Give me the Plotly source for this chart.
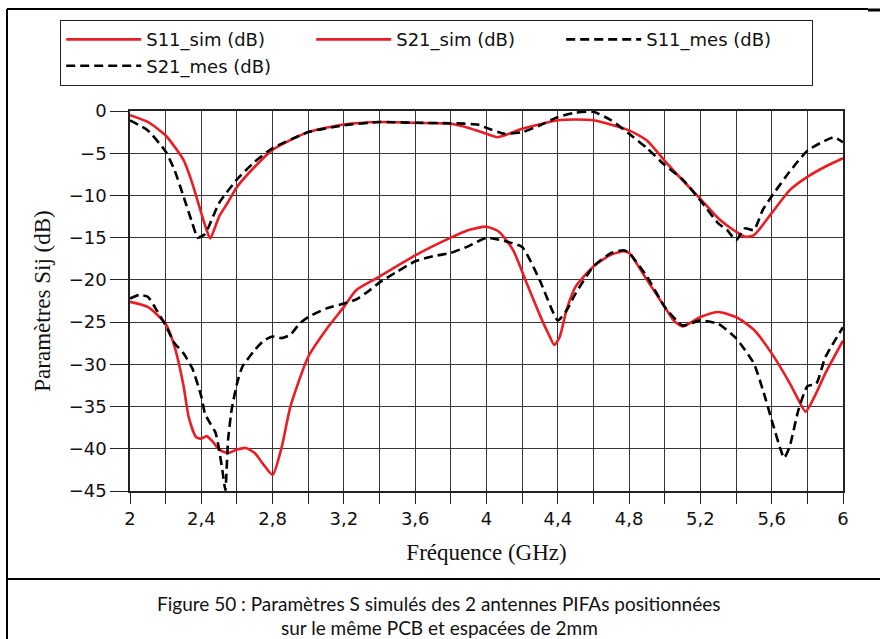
import plotly.graph_objects as go

# ---------------- data ----------------
freq_s11_sim = [2.0, 2.1, 2.2, 2.3, 2.35, 2.4, 2.43, 2.45, 2.5, 2.55, 2.6, 2.7, 2.8,
                3.0, 3.2, 3.4, 3.6, 3.8, 3.9, 4.0, 4.06, 4.1, 4.2, 4.4, 4.5, 4.6,
                4.8, 4.9, 5.0, 5.1, 5.2, 5.3, 5.4, 5.45, 5.5, 5.6, 5.7, 5.8, 5.9, 6.0]
s11_sim = [-0.5, -1.3, -2.9, -5.8, -8.6, -12.1, -14.1, -15.1, -12.5, -10.8, -9.0, -6.6, -4.6,
           -2.5, -1.6, -1.3, -1.4, -1.5, -2.0, -2.7, -3.1, -2.9, -2.1, -1.1, -1.0, -1.1,
           -2.3, -3.5, -5.9, -8.2, -10.4, -12.7, -14.3, -14.9, -14.7, -12.1, -9.4, -7.8, -6.6, -5.6]

freq_s21_sim = [2.0, 2.1, 2.2, 2.25, 2.3, 2.33, 2.37, 2.4, 2.43, 2.47, 2.5, 2.55, 2.6, 2.65,
                2.7, 2.75, 2.8, 2.85, 2.9, 3.0, 3.1, 3.2, 3.27, 3.4, 3.6, 3.8, 3.9, 4.0,
                4.07, 4.15, 4.22, 4.3, 4.35, 4.38, 4.41, 4.45, 4.5, 4.6, 4.7, 4.77, 4.8,
                4.9, 5.0, 5.05, 5.1, 5.2, 5.3, 5.4, 5.5, 5.6, 5.7, 5.75, 5.79, 5.85, 5.9, 6.0]
s21_sim = [-22.6, -23.2, -25.2, -27.9, -32.5, -36.3, -38.6, -38.8, -38.5, -39.3, -40.1, -40.5, -40.1, -39.9,
           -40.5, -41.9, -43.1, -39.9, -35.0, -29.1, -25.9, -23.2, -21.2, -19.6, -17.1, -15.0, -14.1, -13.7,
           -14.3, -16.5, -20.1, -24.2, -26.5, -27.7, -26.8, -23.5, -20.8, -18.4, -17.0, -16.6, -16.8,
           -20.0, -23.2, -24.8, -25.5, -24.4, -23.8, -24.4, -25.9, -28.7, -32.2, -34.2, -35.6, -33.4, -31.1, -27.2]

freq_s11_mes = [2.0, 2.1, 2.2, 2.25, 2.3, 2.35, 2.38, 2.42, 2.45, 2.5, 2.6, 2.7, 2.8, 3.0,
                3.2, 3.4, 3.6, 3.8, 3.95, 4.0, 4.1, 4.2, 4.3, 4.4, 4.5, 4.6, 4.7, 4.8,
                4.9, 5.0, 5.1, 5.2, 5.3, 5.35, 5.4, 5.45, 5.5, 5.55, 5.6, 5.7, 5.8, 5.9, 5.95, 6.0]
s11_mes = [-1.1, -2.3, -4.8, -7.0, -10.1, -13.3, -15.0, -14.6, -13.3, -10.9, -8.1, -6.0, -4.4, -2.5,
           -1.7, -1.3, -1.4, -1.45, -1.6, -2.0, -2.7, -2.5, -1.7, -0.7, -0.2, -0.1, -1.1, -2.7,
           -4.4, -6.4, -8.1, -10.6, -13.3, -14.1, -15.3, -13.9, -14.1, -11.7, -10.1, -7.2, -4.7, -3.5, -3.1, -3.7]

freq_s21_mes = [2.0, 2.05, 2.1, 2.15, 2.2, 2.25, 2.3, 2.35, 2.4, 2.42, 2.45, 2.48, 2.5, 2.52,
                2.535, 2.55, 2.57, 2.6, 2.63, 2.7, 2.75, 2.8, 2.85, 2.9, 2.95, 3.0, 3.1,
                3.2, 3.27, 3.34, 3.4, 3.5, 3.6, 3.7, 3.8, 3.9, 4.0, 4.1, 4.2, 4.3, 4.4,
                4.45, 4.5, 4.6, 4.7, 4.77, 4.8, 4.9, 5.0, 5.1, 5.2, 5.3, 5.4, 5.5, 5.55,
                5.6, 5.65, 5.67, 5.7, 5.75, 5.8, 5.85, 5.9, 6.0]
s21_mes = [-22.2, -21.8, -22.0, -23.6, -25.4, -27.5, -28.7, -30.5, -33.8, -35.8, -37.0, -38.1, -40.1, -42.8,
           -44.9, -39.0, -35.4, -32.3, -30.3, -28.3, -27.2, -26.7, -26.9, -26.5, -25.2, -24.4, -23.4,
           -22.8, -22.3, -21.3, -20.3, -19.0, -17.8, -17.2, -16.8, -16.0, -15.0, -15.4, -16.1, -20.1, -24.8,
           -23.6, -21.6, -18.4, -16.8, -16.5, -16.8, -19.6, -23.2, -25.4, -24.8, -25.2, -26.9, -29.9, -33.0,
           -36.6, -40.1, -41.1, -39.8, -35.4, -32.6, -32.3, -29.2, -25.6]

series_names = ["S11_sim (dB)", "S21_sim (dB)", "S11_mes (dB)", "S21_mes (dB)"]

x_tick_vals = [2.0, 2.2, 2.4, 2.6, 2.8, 3.0, 3.2, 3.4, 3.6, 3.8, 4.0,
               4.2, 4.4, 4.6, 4.8, 5.0, 5.2, 5.4, 5.6, 5.8, 6.0]
x_tick_text = ["2", "", "2,4", "", "2,8", "", "3,2", "", "3,6", "", "4",
               "", "4,4", "", "4,8", "", "5,2", "", "5,6", "", "6"]
y_tick_vals = [0, -5, -10, -15, -20, -25, -30, -35, -40, -45]
y_tick_text = ["0", "\u22125", "\u221210", "\u221215", "\u221220", "\u221225",
               "\u221230", "\u221235", "\u221240", "\u221245"]

x_title = "Fréquence (GHz)"
y_title = "Paramètres Sij (dB)"
caption_1 = "Figure 50 : Paramètres S simulés des 2 antennes PIFAs positionnées"
caption_2 = "sur le même PCB et espacées de 2mm"

# ---------------- layout geometry ----------------
W, H = 880, 639
L, R, T, B = 130, 37, 111, 148
pw, ph = W - L - R, H - T - B


def px(xp):
    return (xp - L) / pw


def py(yp):
    return (H - B - yp) / ph


RED = "#ec1c24"
fig = go.Figure()
fig.add_trace(go.Scatter(x=freq_s11_sim, y=s11_sim, name=series_names[0], mode="lines",
                         line=dict(color=RED, width=2.6, shape="spline", smoothing=0.6)))
fig.add_trace(go.Scatter(x=freq_s21_sim, y=s21_sim, name=series_names[1], mode="lines",
                         line=dict(color=RED, width=2.6, shape="spline", smoothing=0.6)))
fig.add_trace(go.Scatter(x=freq_s11_mes, y=s11_mes, name=series_names[2], mode="lines",
                         line=dict(color="black", width=2.6, dash="9px,5px", shape="spline", smoothing=0.5)))
fig.add_trace(go.Scatter(x=freq_s21_mes, y=s21_mes, name=series_names[3], mode="lines",
                         line=dict(color="black", width=2.6, dash="9px,5px", shape="spline", smoothing=0.5)))

axis_common = dict(showgrid=True, gridcolor="#363636", gridwidth=1.4, zeroline=False,
                   showline=True, linecolor="#222", linewidth=1.5, mirror=True,
                   ticks="outside", tickcolor="#222", tickwidth=1.3,
                   tickfont=dict(family="DejaVu Sans", size=18, color="#111"))

fig.update_xaxes(range=[2, 6], tickmode="array", tickvals=x_tick_vals, ticktext=x_tick_text,
                 ticklen=11, title=dict(text=x_title, standoff=16,
                                        font=dict(family="Liberation Serif", size=23, color="#111")),
                 **axis_common)
fig.update_yaxes(range=[-45, 0], tickmode="array", tickvals=y_tick_vals, ticktext=y_tick_text,
                 ticklen=18, title=dict(text=y_title, standoff=12,
                                        font=dict(family="Liberation Serif", size=23, color="#111")),
                 **axis_common)

shapes = [
    dict(type="line", xref="paper", yref="paper", x0=px(7), x1=px(868), y0=py(9), y1=py(9),
         line=dict(color="black", width=2)),
    dict(type="line", xref="paper", yref="paper", x0=px(868), x1=px(880), y0=py(10), y1=py(10),
         line=dict(color="black", width=3)),
    dict(type="line", xref="paper", yref="paper", x0=px(7), x1=px(7), y0=py(9), y1=py(639),
         line=dict(color="black", width=2)),
    dict(type="line", xref="paper", yref="paper", x0=px(7), x1=px(880), y0=py(579), y1=py(579),
         line=dict(color="black", width=2)),
]

annotations = [
    dict(text=caption_1, xref="paper", yref="paper", x=px(438), y=py(603), showarrow=False,
         xanchor="center", yanchor="middle", font=dict(family="Lato", size=19, color="#111")),
    dict(text=caption_2, xref="paper", yref="paper", x=px(439), y=py(627), showarrow=False,
         xanchor="center", yanchor="middle", font=dict(family="Lato", size=19, color="#111")),
]

fig.update_layout(
    width=W, height=H, margin=dict(l=L, r=R, t=T, b=B),
    paper_bgcolor="white", plot_bgcolor="white",
    shapes=shapes, annotations=annotations,
    legend=dict(orientation="h", x=px(60), y=py(20), xanchor="left", yanchor="top",
                entrywidth=160, entrywidthmode="pixels", itemwidth=75,
                bordercolor="#222", borderwidth=1.2, bgcolor="white",
                font=dict(family="DejaVu Sans", size=18, color="#111"),
                traceorder="normal"),
)

fig.write_html("out.html", config={"displayModeBar": False},
               post_script="document.body.style.margin='0px';")
